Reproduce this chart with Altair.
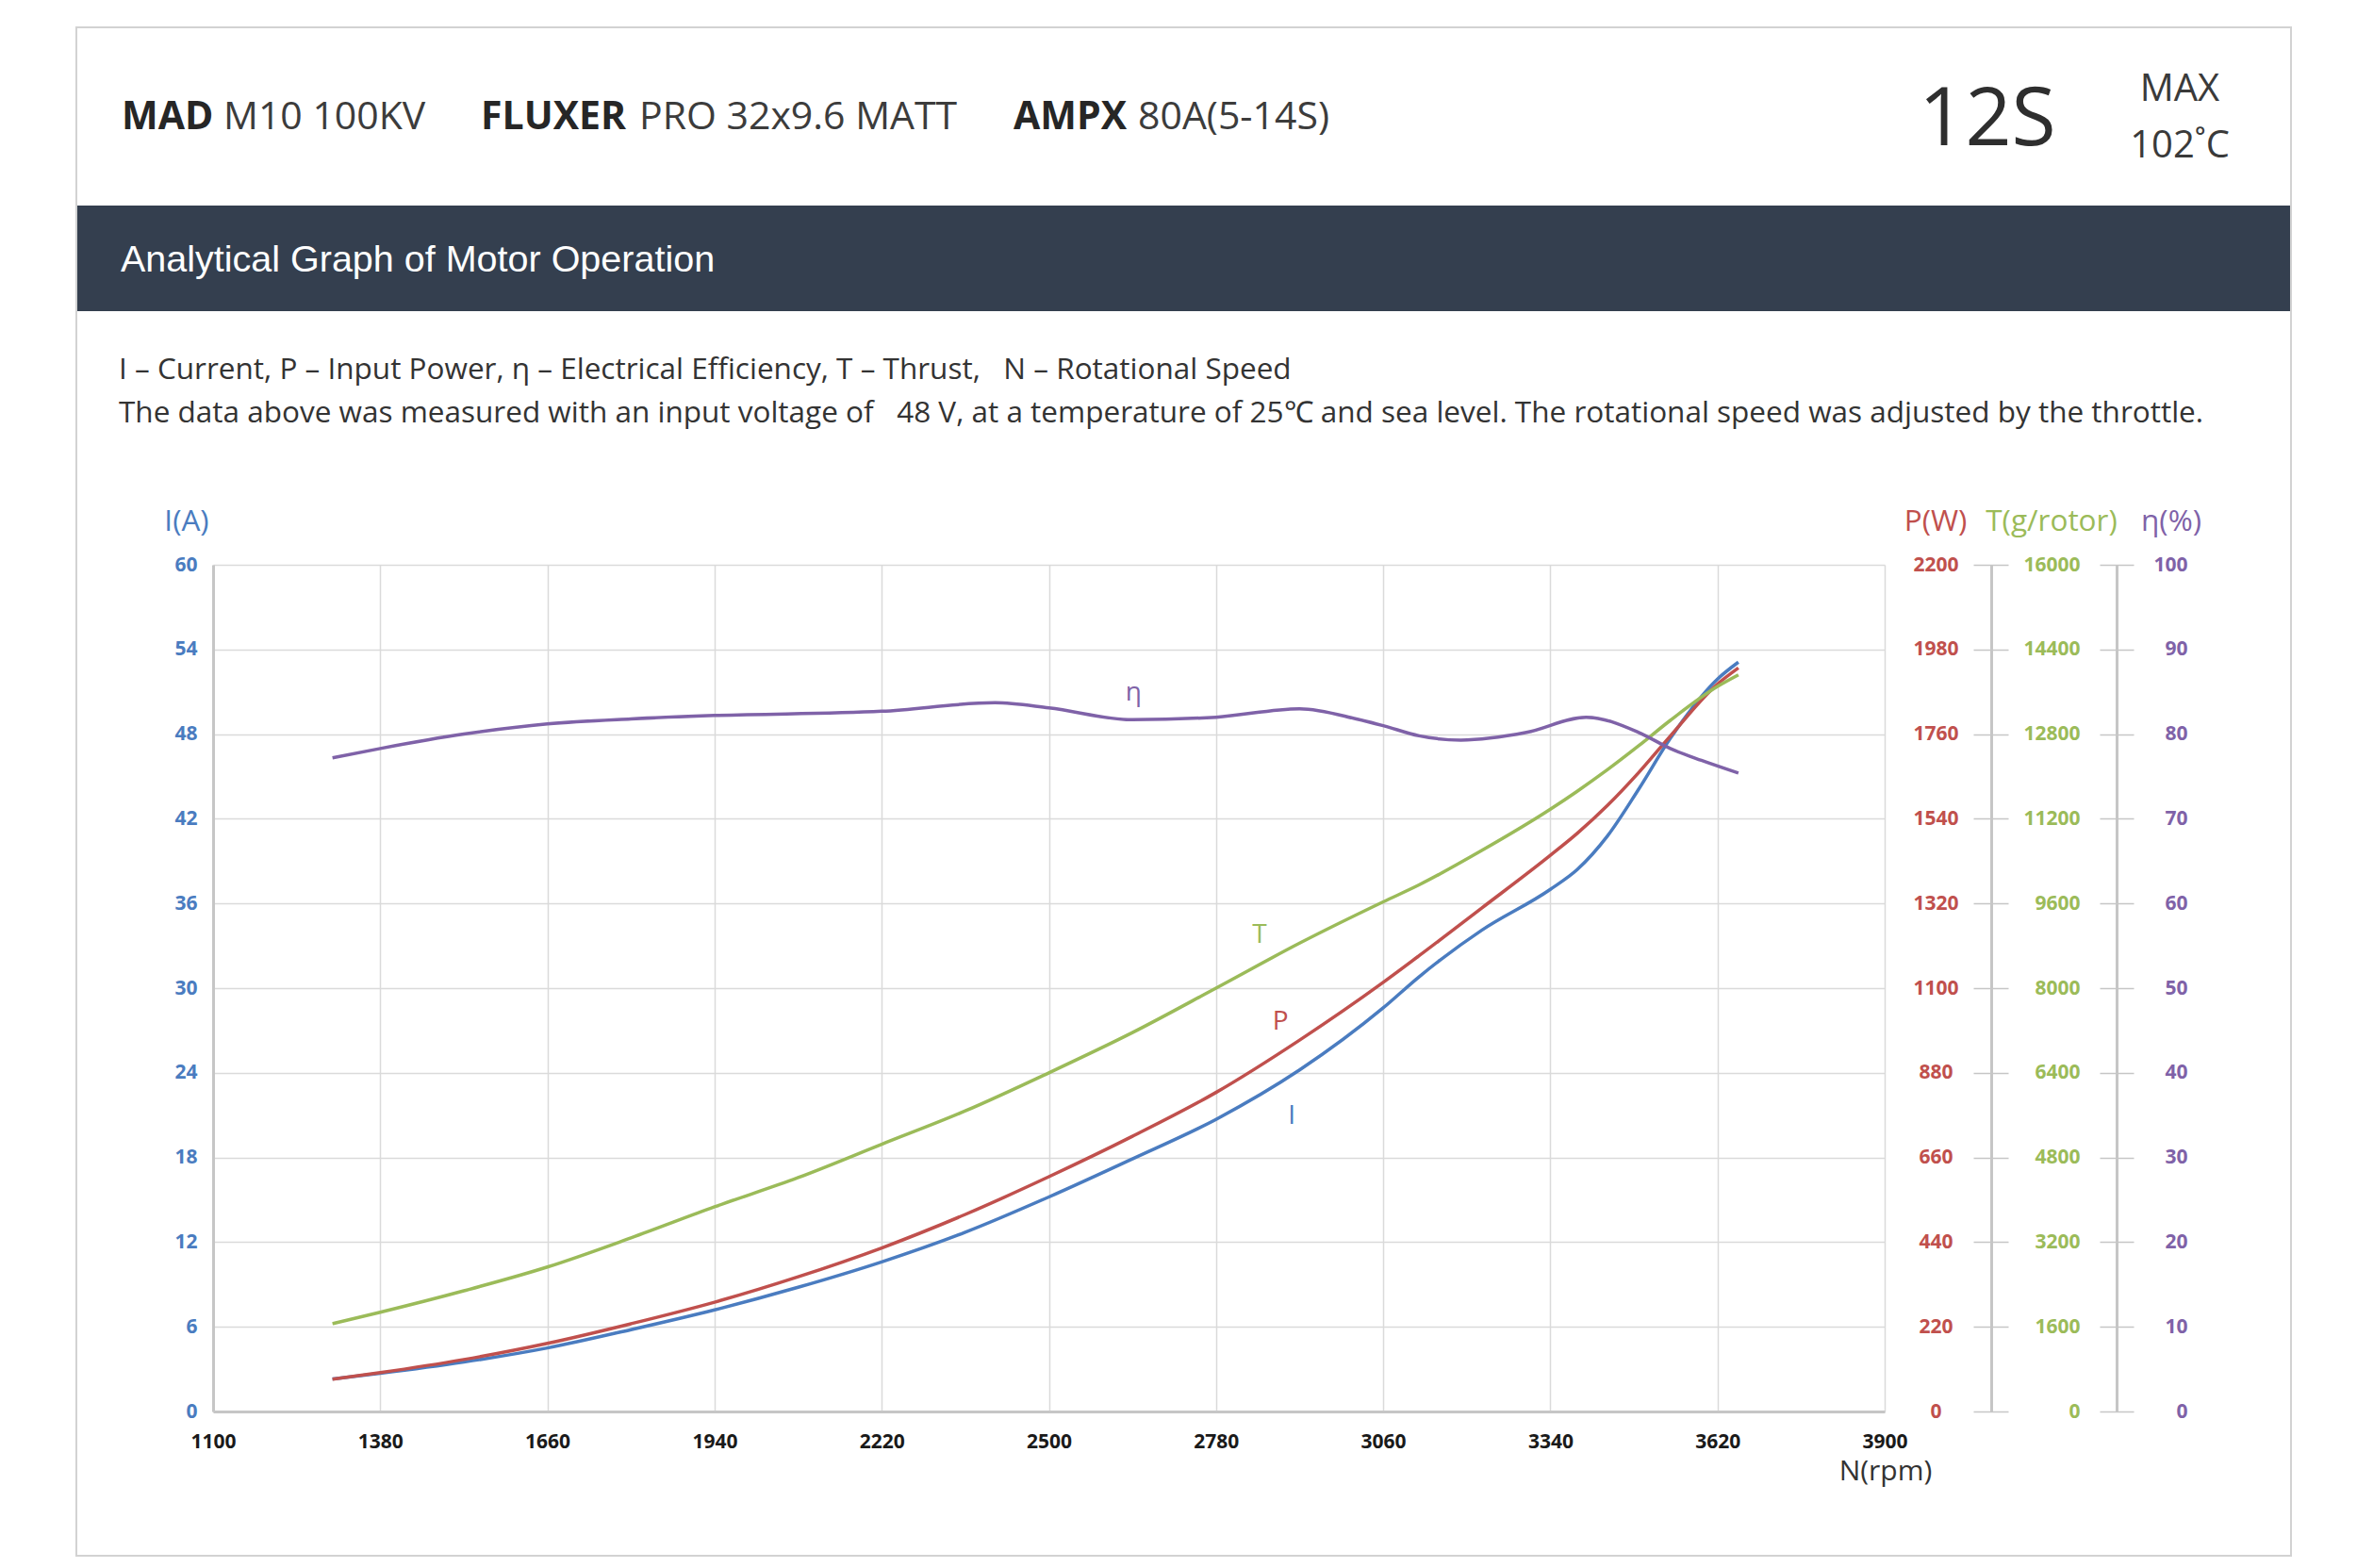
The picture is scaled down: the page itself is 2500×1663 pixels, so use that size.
import altair as alt
import pandas as pd

# ---------------- data ----------------
rpm = [1300, 1380, 1520, 1660, 1800, 1940, 2080, 2220, 2360, 2500,
       2640, 2780, 2920, 3060, 3120, 3225, 3340, 3385, 3436, 3488,
       3541, 3620, 3655]
current = [2.3, 2.7, 3.5, 4.5, 5.8, 7.2, 8.8, 10.6, 12.7, 15.2,
           17.9, 20.7, 24.2, 28.6, 30.8, 34.1, 37.0, 38.4, 40.8, 44.1,
           47.7, 51.9, 53.1]
power = [84, 101, 135, 177, 228, 284, 350, 425, 512, 610,
         715, 829, 965, 1115, 1184, 1308, 1445, 1502, 1575, 1660,
         1755, 1890, 1932]
thrust = [1660, 1875, 2280, 2730, 3280, 3867, 4420, 5050, 5680, 6400,
          7160, 8000, 8850, 9630, 9950, 10600, 11380, 11720, 12130, 12580,
          13060, 13700, 13920]
eta_rpm = [1300, 1380, 1520, 1660, 1800, 1940, 2220, 2410, 2500, 2640,
           2780, 2920, 3015, 3060, 3120, 3190, 3300, 3400, 3488, 3541,
           3593, 3655]
eta = [77.2, 78.3, 80.0, 81.2, 81.8, 82.2, 82.7, 83.7, 83.1, 81.7,
       82.0, 83.0, 81.8, 81.0, 79.8, 79.3, 80.2, 82.0, 80.2, 78.3,
       76.9, 75.4]

x_ticks = [1100, 1380, 1660, 1940, 2220, 2500, 2780, 3060, 3340, 3620, 3900]
i_ticks = [0, 6, 12, 18, 24, 30, 36, 42, 48, 54, 60]
p_ticks = [0, 220, 440, 660, 880, 1100, 1320, 1540, 1760, 1980, 2200]
t_ticks = [0, 1600, 3200, 4800, 6400, 8000, 9600, 11200, 12800, 14400, 16000]
e_ticks = [0, 10, 20, 30, 40, 50, 60, 70, 80, 90, 100]

# curve labels: name, rpm, value
lab_i = ("I", 2907, 20.9)
lab_p = ("P", 2888, 1012)
lab_t = ("T", 2853, 9003)
lab_e = ("η", 2642, 84.8)

header_bold = ["MAD", "FLUXER", "AMPX"]
header_regular = ["M10 100KV", "PRO 32x9.6 MATT", "80A(5-14S)"]
series_badge = "12S"
max_temp = ["MAX", "102˚C"]
banner_title = "Analytical Graph of Motor Operation"
desc_lines = [
    "I – Current, P – Input Power, η – Electrical Efficiency, T – Thrust,\u00a0\u00a0 N – Rotational Speed",
    "The data above was measured with an input voltage of\u00a0\u00a0 48 V, at a temperature of 25℃ and sea level. The rotational speed was adjusted by the throttle.",
]
axis_titles = ["I(A)", "P(W)", "T(g/rotor)", "η(%)", "N(rpm)"]

# ---------------- layout ----------------
OX, OY = 226, 599          # page position of plot origin
W, H = 1773, 898
def px(v): return v - OX
def py(v): return v - OY

FONT = "Open Sans"
BLUE, RED, GREEN, PURPLE = "#4a7cc0", "#c0504d", "#9bbb59", "#7f62a8"
GRID = "#dadada"
AXC = "#c6c6c6"
TXT = "#333333"
TICKFS = 21

one = pd.DataFrame({"k": [0]})

X = alt.X("rpm:Q", scale=alt.Scale(domain=[1100, 3900], nice=False, zero=False),
          axis=alt.Axis(values=x_ticks, grid=True, gridColor=GRID, gridWidth=1.5,
                        domain=True, domainColor=AXC, domainWidth=3, ticks=False,
                        labelPadding=21, labelFont=FONT, labelFontSize=TICKFS,
                        labelFontWeight="bold", labelColor="#1a1a1a", labelFlush=False,
                        labelOverlap=False, format="d", title=None))

def yaxis(color, **kw):
    base = dict(grid=False, domain=False, ticks=False, labelFont=FONT, labelFontSize=TICKFS,
                labelFontWeight="bold", labelColor=color, labelOverlap=False,
                title=None, format="d")
    base.update(kw)
    return alt.Axis(**base)

def series(field, xs, ys, lab, domain, color, axis):
    df = pd.DataFrame({"rpm": xs, field: ys})
    ldf = pd.DataFrame({"rpm": [lab[1]], field: [lab[2]], "lab": [lab[0]]})
    Y = alt.Y(f"{field}:Q", scale=alt.Scale(domain=domain, nice=False, zero=True), axis=axis)
    line = alt.Chart(df).mark_line(color=color, strokeWidth=3.5, interpolate="monotone").encode(x=X, y=Y)
    text = alt.Chart(ldf).mark_text(color=color, font=FONT, fontSize=28, align="center",
                                    baseline="middle").encode(x=X, y=Y, text="lab:N")
    return alt.layer(line, text)

def extra_axis(field, xs, ys, domain, axis):
    df = pd.DataFrame({"rpm": xs, field: ys})
    return alt.Chart(df).mark_line(opacity=0).encode(
        x=X, y=alt.Y(f"{field}:Q", scale=alt.Scale(domain=domain, nice=False, zero=True), axis=axis))

layer_i = series("I", rpm, current, lab_i, [0, 60], BLUE,
                 yaxis(BLUE, values=i_ticks, grid=True, gridColor=GRID, gridWidth=1.5,
                       domain=True, domainColor=AXC, domainWidth=3, labelPadding=17))
layer_p = series("P", rpm, power, lab_p, [0, 2200], RED,
                 yaxis(RED, values=p_ticks, orient="right", offset=0, labelAlign="center",
                       labelPadding=54))
layer_t = series("T", rpm, thrust, lab_t, [0, 16000], GREEN,
                 yaxis(GREEN, values=t_ticks, orient="right", offset=94, ticks=True, tickSize=37,
                       tickColor=AXC, tickWidth=1.5, labelAlign="right", labelPadding=76))
layer_t_dom = extra_axis("T", rpm, thrust, [0, 16000],
                         yaxis(GREEN, values=t_ticks, orient="right", offset=113, domain=True,
                               domainColor=AXC, domainWidth=3, labels=False))
layer_e = series("eta", eta_rpm, eta, lab_e, [0, 100], PURPLE,
                 yaxis(PURPLE, values=e_ticks, orient="right", offset=228, ticks=True, tickSize=36,
                       tickColor=AXC, tickWidth=1.5, labelAlign="right", labelPadding=57))
layer_e_dom = extra_axis("eta", eta_rpm, eta, [0, 100],
                         yaxis(PURPLE, values=e_ticks, orient="right", offset=246, domain=True,
                               domainColor=AXC, domainWidth=3, labels=False))

def text(s, x, y, size, color=TXT, weight="normal", align="left", baseline="alphabetic", font=FONT):
    return alt.Chart(one).mark_text(text=s, font=font, fontSize=size, fontWeight=weight,
                                    color=color, align=align, baseline=baseline).encode(
        x=alt.value(x), y=alt.value(y))

card = alt.Chart(one).mark_rect(fillOpacity=0, stroke="#d2d2d2", strokeWidth=2).encode(
    x=alt.value(px(81)), x2=alt.value(px(2430)), y=alt.value(py(29)), y2=alt.value(py(1650)))
banner = alt.Chart(one).mark_rect(fill="#343f4f").encode(
    x=alt.value(px(82)), x2=alt.value(px(2429)), y=alt.value(py(218)), y2=alt.value(py(330)))

decor = [
    card, banner,
    text(header_bold[0], px(129), py(137), 41, "#262626", "bold"),
    text(header_regular[0], px(237), py(137), 41, "#3c3c3c"),
    text(header_bold[1], px(510), py(137), 41, "#262626", "bold"),
    text(header_regular[1], px(678), py(137), 41, "#3c3c3c"),
    text(header_bold[2], px(1075), py(137), 41, "#262626", "bold"),
    text(header_regular[2], px(1207), py(137), 41, "#3c3c3c"),
    text(series_badge, px(2108), py(154), 86, "#2e2e2e", align="center"),
    text(max_temp[0], px(2312), py(107), 40, "#3a3a3a", align="center"),
    text(max_temp[1], px(2312), py(167), 40, "#3a3a3a", align="center"),
    text(banner_title, px(128), py(288), 39.5, "#ffffff", font="Liberation Sans"),
    text(desc_lines[0], px(126), py(402), 31.5, TXT),
    text(desc_lines[1], px(126), py(448), 31.5, TXT),
    text(axis_titles[0], px(198), py(554), 31.5, BLUE, align="center", baseline="middle"),
    text(axis_titles[1], px(2053), py(554), 31.5, RED, align="center", baseline="middle"),
    text(axis_titles[2], px(2176), py(554), 31.5, GREEN, align="center", baseline="middle"),
    text(axis_titles[3], px(2303), py(554), 31.5, PURPLE, align="center", baseline="middle"),
    text(axis_titles[4], px(2000), py(1561), 30, TXT, align="center", baseline="middle"),
]

chart = alt.layer(
    *decor, layer_i, layer_p, layer_t, layer_t_dom, layer_e, layer_e_dom
).resolve_scale(y="independent").resolve_axis(y="independent").properties(
    width=W, height=H,
    autosize=alt.AutoSizeParams(type="none"),
    padding={"left": OX - 8, "top": OY - 8, "right": 2480 - (OX - 8) - W, "bottom": 1644 - (OY - 8) - H},
    background="white",
).configure_view(stroke=None)

chart.save("out.html", embed_options={"renderer": "svg", "actions": False})
